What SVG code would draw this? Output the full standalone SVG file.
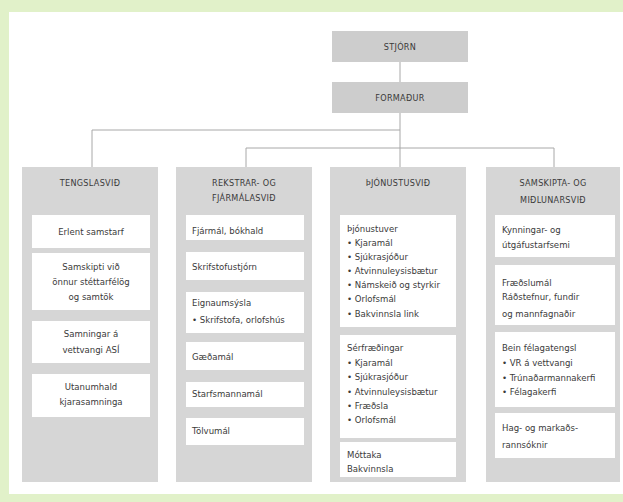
<svg xmlns="http://www.w3.org/2000/svg" width="623" height="502" viewBox="0 0 623 502">
<style>
text{font-family:'DejaVu Sans Condensed','Liberation Sans Narrow','Liberation Sans',sans-serif;font-size:9.5px;fill:#3a3a3a}
.c{text-anchor:middle}
.h{font-size:9px;letter-spacing:0.3px}
.top{fill:#cdcdcd}
.col{fill:#d6d6d6}
.box{fill:#ffffff}
.ln{stroke:#a8a8a8;stroke-width:1;fill:none}
</style>
<rect width="623" height="502" fill="#e1f1c9"/>
<rect x="9" y="12" width="614" height="482" fill="#ffffff"/>
<g id="connectors">
<path class="ln" d="M400 62V82M400 113V167M92 130H400M92 130V167M246 148H554M246 148V167M554 148V167"/>
</g>
<g id="stjorn"><rect class="top" x="332" y="31" width="136" height="31"/><text class="c h" x="400" y="50">STJÓRN</text></g>
<g id="formadur"><rect class="top" x="332" y="82" width="136" height="31"/><text class="c h" x="400" y="101">FORMAÐUR</text></g>
<g id="tengslasvid">
<rect class="col" x="22" y="167" width="136" height="315"/>
<text class="c h" x="90" y="186">TENGSLASVIÐ</text>
<rect class="box" x="32" y="215" width="118" height="33"/><text class="c" x="91" y="235">Erlent samstarf</text>
<rect class="box" x="32" y="253" width="118" height="57"/><text class="c" x="91" y="270">Samskipti við</text><text class="c" x="91" y="285">önnur stéttarfélög</text><text class="c" x="91" y="300">og samtök</text>
<rect class="box" x="32" y="321" width="118" height="42"/><text class="c" x="91" y="337">Samningar á</text><text class="c" x="91" y="353">vettvangi ASÍ</text>
<rect class="box" x="32" y="374" width="118" height="43"/><text class="c" x="91" y="390">Utanumhald</text><text class="c" x="91" y="405">kjarasamninga</text>
</g>
<g id="rekstrarsvid">
<rect class="col" x="176" y="167" width="136" height="315"/>
<text class="c h" x="244" y="186">REKSTRAR- OG</text><text class="c h" x="244" y="201">FJÁRMÁLASVIÐ</text>
<rect class="box" x="186" y="215" width="118" height="25"/><text x="192" y="234">Fjármál, bókhald</text>
<rect class="box" x="186" y="252" width="118" height="28"/><text x="192" y="270">Skrifstofustjórn</text>
<rect class="box" x="186" y="292" width="118" height="41"/><text x="192" y="306">Eignaumsýsla</text><text x="192" y="323">• Skrifstofa, orlofshús</text>
<rect class="box" x="186" y="342" width="118" height="28"/><text x="192" y="360">Gæðamál</text>
<rect class="box" x="186" y="382" width="118" height="25"/><text x="192" y="397">Starfsmannamál</text>
<rect class="box" x="186" y="418" width="118" height="27"/><text x="192" y="434">Tölvumál</text>
</g>
<g id="thjonustusvid">
<rect class="col" x="330" y="167" width="136" height="315"/>
<text class="c h" x="398" y="186">ÞJÓNUSTUSVIÐ</text>
<rect class="box" x="340" y="215" width="116" height="112"/>
<text x="347" y="232">Þjónustuver</text><text x="347" y="246">• Kjaramál</text><text x="347" y="260">• Sjúkrasjóður</text><text x="347" y="274">• Atvinnuleysisbætur</text><text x="347" y="288">• Námskeið og styrkir</text><text x="347" y="302">• Orlofsmál</text><text x="347" y="317">• Bakvinnsla link</text>
<rect class="box" x="340" y="335" width="116" height="103"/>
<text x="347" y="351">Sérfræðingar</text><text x="347" y="366">• Kjaramál</text><text x="347" y="380">• Sjúkrasjóður</text><text x="347" y="395">• Atvinnuleysisbætur</text><text x="347" y="409">• Fræðsla</text><text x="347" y="423">• Orlofsmál</text>
<rect class="box" x="340" y="442" width="116" height="35"/>
<text x="347" y="458">Móttaka</text><text x="347" y="472">Bakvinnsla</text>
</g>
<g id="samskiptasvid">
<rect class="col" x="486" y="167" width="134" height="315"/>
<text class="c h" x="553" y="186">SAMSKIPTA- OG</text><text class="c h" x="553" y="203">MIÐLUNARSVIÐ</text>
<rect class="box" x="495" y="215" width="120" height="42"/><text x="502" y="233">Kynningar- og</text><text x="502" y="248">útgáfustarfsemi</text>
<rect class="box" x="495" y="265" width="120" height="60"/><text x="502" y="286">Fræðslumál</text><text x="502" y="300">Ráðstefnur, fundir</text><text x="502" y="317">og mannfagnaðir</text>
<rect class="box" x="495" y="332" width="120" height="75"/><text x="502" y="351">Bein félagatengsl</text><text x="502" y="366">• VR á vettvangi</text><text x="502" y="381">• Trúnaðarmannakerfi</text><text x="502" y="395">• Félagakerfi</text>
<rect class="box" x="495" y="413" width="120" height="45"/><text x="502" y="431">Hag- og markaðs-</text><text x="502" y="448">rannsóknir</text>
</g>
</svg>
